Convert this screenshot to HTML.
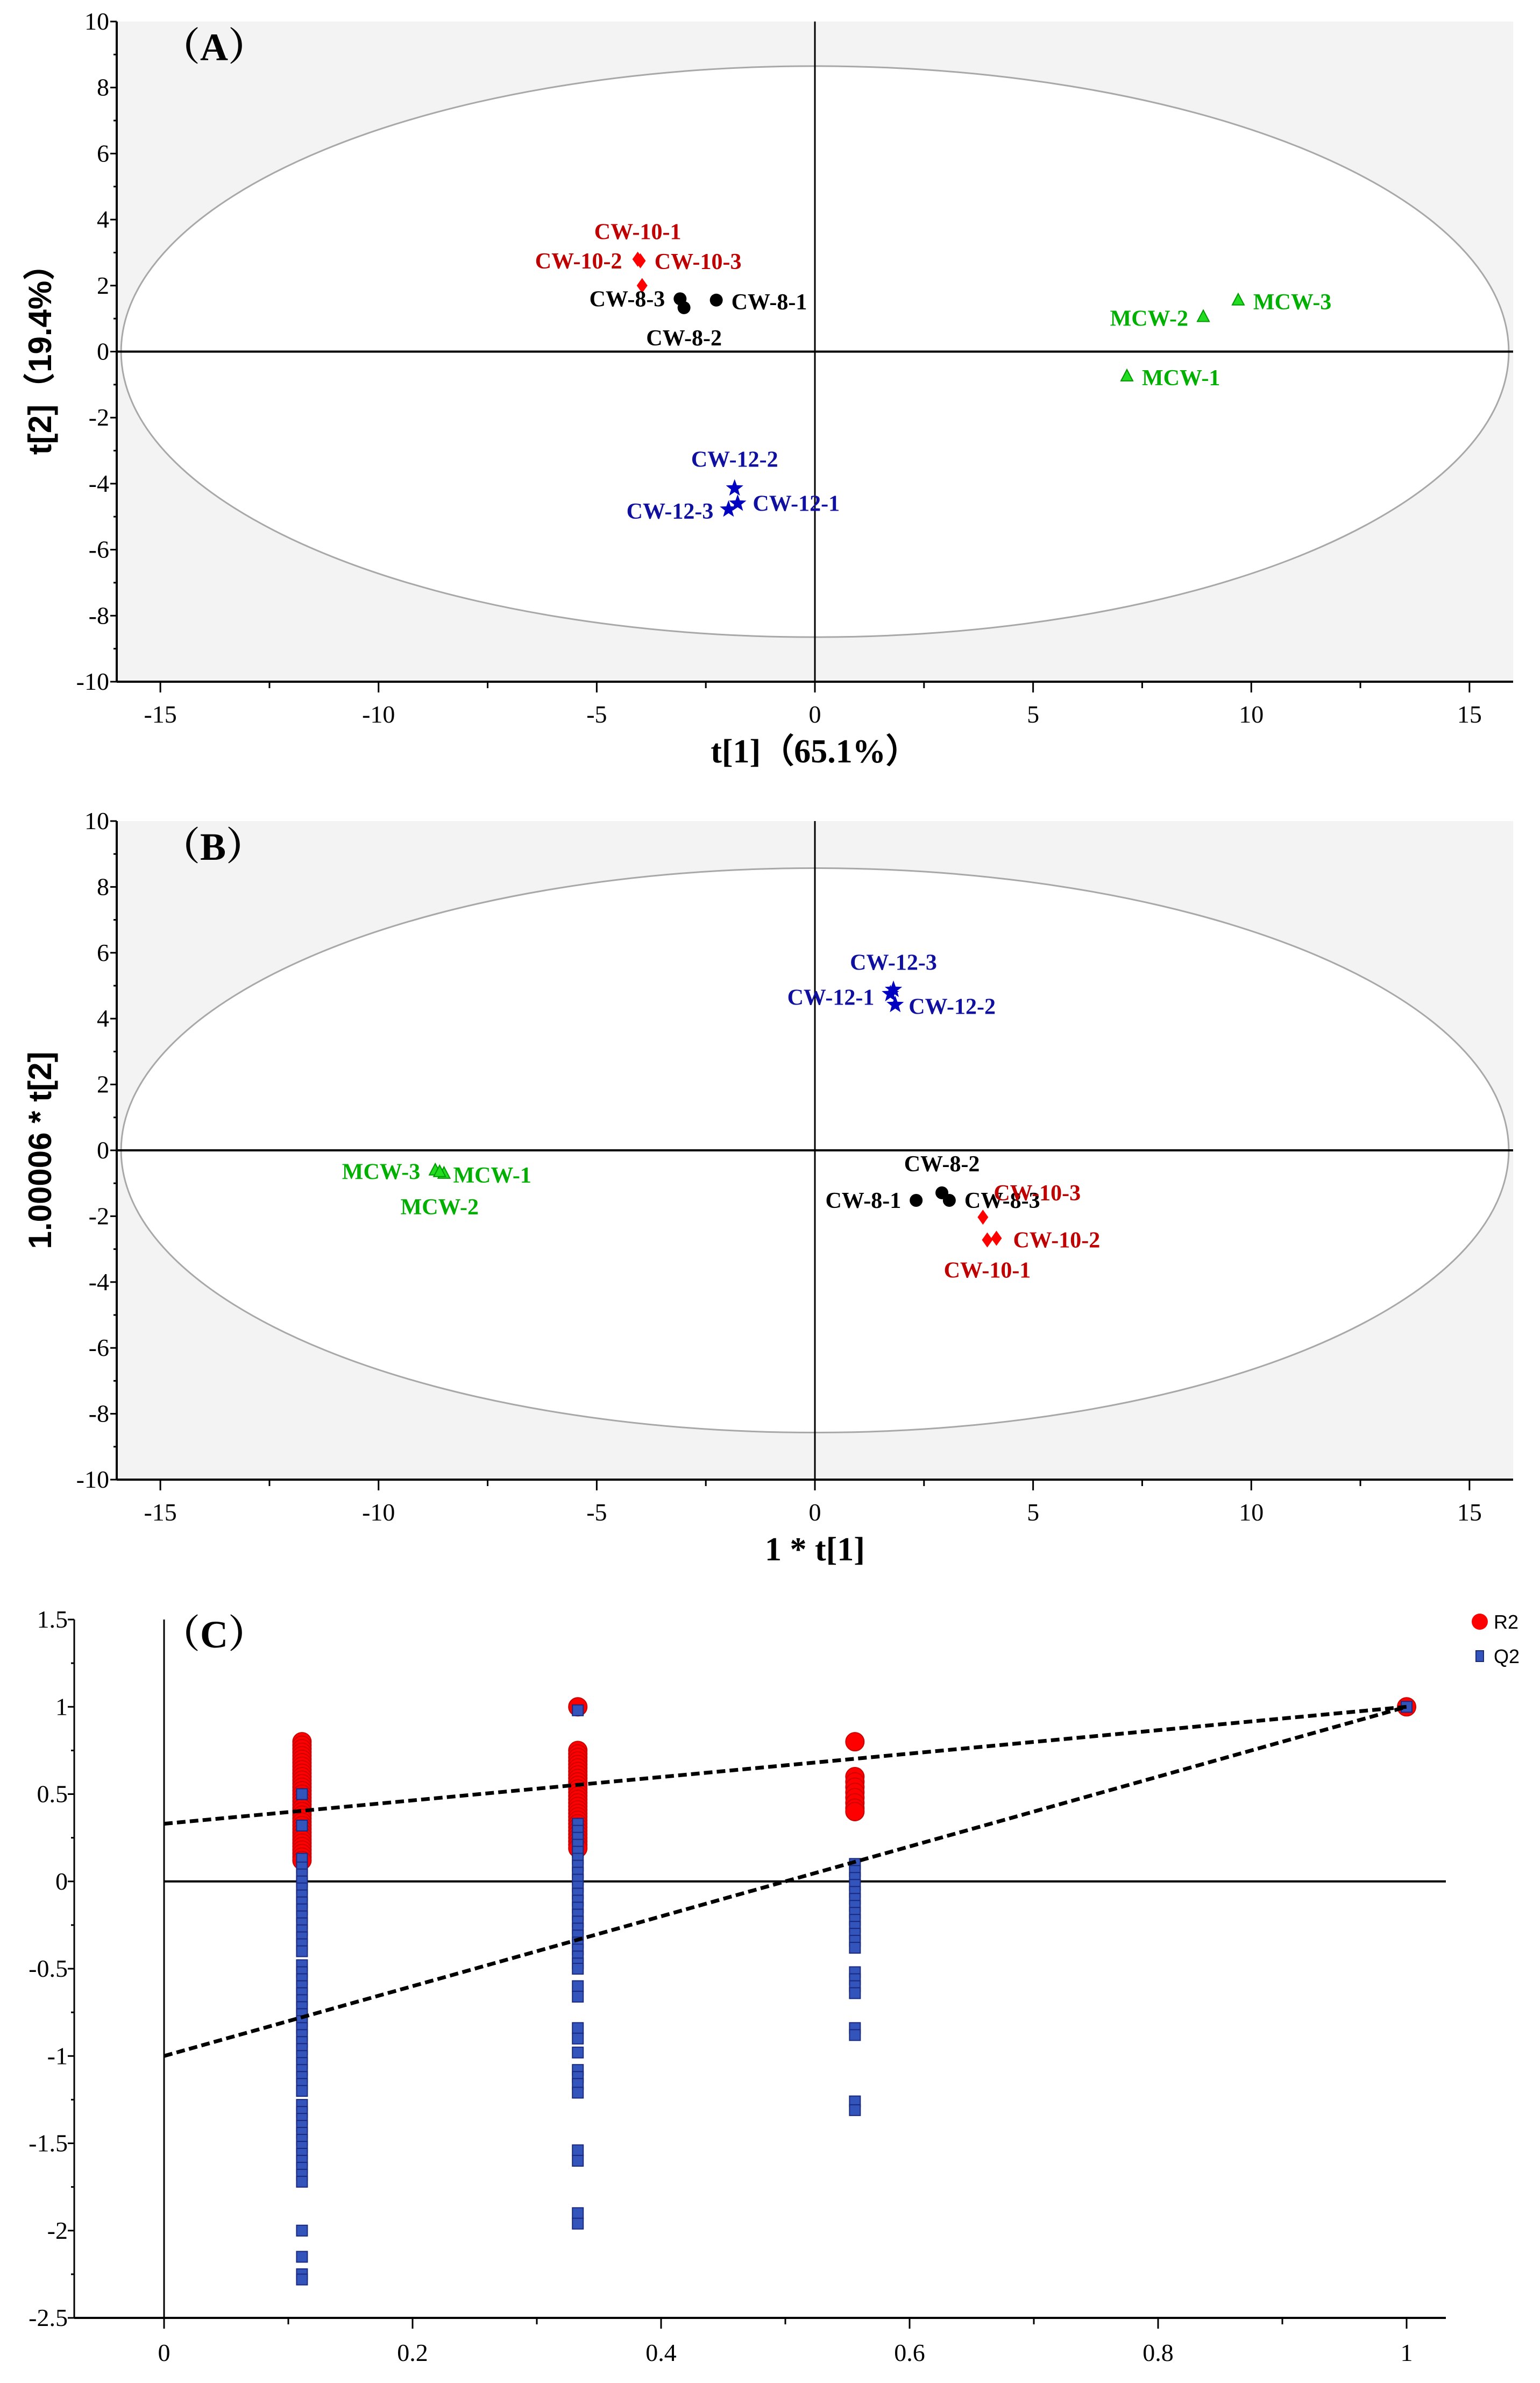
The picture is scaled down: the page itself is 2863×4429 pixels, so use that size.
<!DOCTYPE html>
<html><head><meta charset="utf-8"><style>
html,body{margin:0;padding:0;background:#fff}
svg{display:block}
text{font-family:"Liberation Serif",serif}
</style></head><body>
<svg id="fig" width="2863" height="4429" viewBox="0 0 2863 4429" xmlns="http://www.w3.org/2000/svg"></svg>
<script>
// ---------- Panel A data ----------
const aNames = ["CW-10-1","CW-10-2","CW-10-3","CW-8-3","CW-8-1","CW-8-2","MCW-1","MCW-2","MCW-3","CW-12-2","CW-12-1","CW-12-3"];
const aX = [-4.06,-4.0,-3.96,-3.09,-2.26,-3.0,7.15,8.9,9.7,-1.84,-1.77,-1.98];
const aY = [2.8,2.75,2.0,1.6,1.56,1.33,-0.74,1.06,1.56,-4.14,-4.6,-4.78];
const aGroup = ["r","r","r","k","k","k","g","g","g","b","b","b"];
// ---------- Panel B data ----------
const bNames = ["CW-12-3","CW-12-1","CW-12-2","MCW-3","MCW-1","MCW-2","CW-8-2","CW-8-1","CW-8-3","CW-10-3","CW-10-2","CW-10-1"];
const bX = [1.8,1.73,1.84,-8.7,-8.5,-8.6,2.91,2.32,3.08,3.85,4.16,3.95];
const bY = [4.88,4.75,4.42,-0.6,-0.7,-0.65,-1.29,-1.52,-1.52,-2.03,-2.67,-2.72];
const bGroup = ["b","b","b","g","g","g","k","k","k","r","r","r"];
// ---------- Panel C data ----------
const cXcats = [0.111,0.333,0.556,1.0];
const r2_0 = [0.80,0.78,0.76,0.74,0.72,0.70,0.68,0.66,0.64,0.62,0.60,0.58,0.56,0.54,0.52,0.50,0.48,0.46,0.44,0.42,0.40,0.38,0.36,0.34,0.32,0.30,0.28,0.26,0.24,0.22,0.20,0.18,0.16,0.14,0.12];
const r2_1 = [1.0,0.75,0.73,0.71,0.69,0.67,0.65,0.63,0.61,0.59,0.57,0.55,0.53,0.51,0.49,0.47,0.45,0.43,0.41,0.39,0.37,0.35,0.33,0.31,0.29,0.27,0.25,0.23,0.21,0.19];
const r2_2 = [0.80,0.60,0.57,0.54,0.51,0.48,0.45,0.42,0.40];
const r2_3 = [1.0];
const q2_0 = [0.50,0.32,0.13,0.08,0.04,0.0,-0.04,-0.08,-0.12,-0.16,-0.20,-0.24,-0.28,-0.32,-0.36,-0.40,-0.48,-0.52,-0.56,-0.60,-0.64,-0.68,-0.72,-0.76,-0.80,-0.84,-0.88,-0.92,-0.96,-1.00,-1.04,-1.08,-1.12,-1.16,-1.20,-1.28,-1.32,-1.36,-1.40,-1.44,-1.48,-1.52,-1.56,-1.60,-1.64,-1.68,-1.72,-2.00,-2.15,-2.25,-2.28];
const q2_1 = [0.98,0.33,0.29,0.25,0.21,0.17,0.13,0.09,0.05,0.01,-0.03,-0.07,-0.11,-0.15,-0.19,-0.23,-0.27,-0.31,-0.35,-0.39,-0.43,-0.47,-0.50,-0.60,-0.66,-0.84,-0.90,-0.98,-1.08,-1.12,-1.16,-1.21,-1.54,-1.60,-1.90,-1.96];
const q2_2 = [0.10,0.06,0.02,-0.02,-0.06,-0.10,-0.14,-0.18,-0.22,-0.26,-0.30,-0.34,-0.38,-0.52,-0.56,-0.60,-0.64,-0.84,-0.88,-1.26,-1.31];
const q2_3 = [1.0];
const r2Line = [0.33,1.0];
const q2Line = [-1.0,1.0];
const yTicksAB = [-10,-8,-6,-4,-2,0,2,4,6,8,10];
const xTicksAB = [-15,-10,-5,0,5,10,15];
const yTicksC = [-2.5,-2,-1.5,-1,-0.5,0,0.5,1,1.5];
const xTicksC = [0,0.2,0.4,0.6,0.8,1];

const NS="http://www.w3.org/2000/svg";
const svg=document.getElementById('fig');
function mk(tag,attrs,parent){const e=document.createElementNS(NS,tag);for(const k in attrs)e.setAttribute(k,attrs[k]);(parent||svg).appendChild(e);return e;}
function scale(d0,d1,p0,p1){return v=>p0+(v-d0)/(d1-d0)*(p1-p0);}

const textCol={r:"#c00000",k:"#000000",g:"#00b000",b:"#1010a0"};

function marker(g,type,x,y){
  let e;
  if(type==="k"){e=mk('circle',{cx:x,cy:y,r:12,fill:"#000"},g);}
  else if(type==="r"){e=mk('polygon',{points:`${x},${y-14} ${x+10},${y} ${x},${y+14} ${x-10},${y}`,fill:"#ff0000"},g);}
  else if(type==="g"){e=mk('polygon',{points:`${x},${y-12} ${x+11},${y+9} ${x-11},${y+9}`,fill:"#22dd22",stroke:"#009900","stroke-width":2},g);}
  else {let p=[];for(let i=0;i<10;i++){const rr=i%2?7:17;const a=-Math.PI/2+i*Math.PI/5;p.push((x+rr*Math.cos(a)).toFixed(1)+","+(y+rr*Math.sin(a)).toFixed(1));}
    e=mk('polygon',{points:p.join(" "),fill:"#0000c0"},g);}
  return e;
}

function scorePanel(id,top,bottom,names,xs,ys,groups,labOff,letter,yTitle,xTitle,ellRy){
  const L=217,R=2813;
  const X=scale(-16,16,L,R), Y=scale(-10,10,bottom,top);
  const g=mk('g',{});  
  const bg=mk('rect',{x:L,y:top,width:R-L,height:bottom-top,fill:"#f3f3f3"},g);
   
  const el=mk('ellipse',{cx:X(0),cy:Y(0),rx:X(15.9)-X(0),ry:Y(0)-Y(ellRy),fill:"#fff",stroke:"#a8a8a8","stroke-width":3},g);
   
  mk('line',{x1:L,x2:R,y1:Y(0),y2:Y(0),stroke:"#000","stroke-width":4},g);
  mk('line',{x1:X(0),x2:X(0),y1:top,y2:bottom,stroke:"#000","stroke-width":3},g);
  mk('line',{x1:L,x2:L,y1:top,y2:bottom,stroke:"#000","stroke-width":4},g);
  mk('line',{x1:L,x2:R,y1:bottom,y2:bottom,stroke:"#000","stroke-width":4},g);
  for(let v=-10;v<=10;v+=1){mk('line',{x1:L-(v%2===0?12:6),x2:L,y1:Y(v),y2:Y(v),stroke:"#000","stroke-width":3},g);}
  yTicksAB.forEach(v=>{const t=mk('text',{x:L-14,y:Y(v)+15,"text-anchor":"end","font-size":46},g);t.textContent=v;
     });
  for(let v=-15;v<=15;v+=2.5){mk('line',{x1:X(v),x2:X(v),y1:bottom,y2:bottom+(v%5===0?20:12),stroke:"#000","stroke-width":3},g);}
  xTicksAB.forEach(v=>{const t=mk('text',{x:X(v),y:bottom+76,"text-anchor":"middle","font-size":46},g);t.textContent=v;
     });
  const xt=mk('text',{x:1515,y:bottom+150,"text-anchor":"middle","font-size":62,"font-weight":"bold"},g);xt.textContent=xTitle;
   
  const yc=(top+bottom)/2;
  const yt=mk('text',{x:0,y:0,"text-anchor":"middle","font-size":60,"font-weight":"bold",transform:`translate(95,${yc}) rotate(-90)`},g);
  yt.setAttribute('style','font-family:"Liberation Sans","Noto Sans CJK SC",sans-serif');
  yt.textContent=yTitle;
   
  const pl=mk('text',{x:300,y:top+72,"font-size":72,"font-weight":"bold"},g);
  pl.setAttribute('style','font-family:"Liberation Serif","Noto Serif CJK SC",serif');
  pl.textContent="（"+letter+"）";
   
  names.forEach((n,i)=>{
    const px=X(xs[i]),py=Y(ys[i]);
    const m=marker(g,groups[i],px,py);
     
  });
  names.forEach((n,i)=>{
    const px=X(xs[i]),py=Y(ys[i]); const o=labOff[i];
    const t=mk('text',{x:px+o[1],y:py+o[2]+14,"text-anchor":o[0],"font-size":42,"font-weight":"bold",fill:textCol[groups[i]]},g);
    t.textContent=n;
     
  });
}
const aOff=[["middle",0,-51],["end",-34,0],["start",23,-45],["end",-28,0],["start",28,3],["middle",0,56],["start",28,3],["end",-28,3],["start",28,3],["middle",0,-54],["start",28,0],["end",-28,3]];
const bOff=[["middle",0,-51],["end",-30,6],["start",25,3],["end",-28,3],["start",17,3],["middle",0,65],["middle",0,-54],["end",-28,0],["start",28,0],["start",20,-45],["start",31,3],["middle",0,56]];
scorePanel('a',40,1267,aNames,aX,aY,aGroup,aOff,"A","t[2]（19.4%）","t[1]（65.1%）",8.65);
scorePanel('b',1526,2750,bNames,bX,bY,bGroup,bOff,"B","1.00006 * t[2]","1 * t[1]",8.57);

// ---------- Panel C ----------
(function(){
  const L=138,R=2688,T=3010,B=4308;
  const X=scale(0,1,305,2615), Y=scale(-2.5,1.5,B,T);
  const g=mk('g',{});  
  mk('line',{x1:L,x2:L,y1:T,y2:B,stroke:"#000","stroke-width":3},g);
  mk('line',{x1:L,x2:R,y1:B,y2:B,stroke:"#000","stroke-width":4},g);
  mk('line',{x1:X(0),x2:X(0),y1:T,y2:B,stroke:"#000","stroke-width":3},g);
  mk('line',{x1:X(0),x2:R,y1:Y(0),y2:Y(0),stroke:"#000","stroke-width":4},g);
  for(let v=-2.5;v<=1.5001;v+=0.25){const maj=Math.abs(v*2-Math.round(v*2))<1e-6;mk('line',{x1:L-(maj?12:6),x2:L,y1:Y(v),y2:Y(v),stroke:"#000","stroke-width":3},g);}
  yTicksC.forEach(v=>{const t=mk('text',{x:L-12,y:Y(v)+15,"text-anchor":"end","font-size":46},g);t.textContent=v;
     });
  for(let v=0;v<=1.0001;v+=0.1){const maj=Math.abs(v*5-Math.round(v*5))<1e-6;mk('line',{x1:X(v),x2:X(v),y1:B,y2:B+(maj?20:12),stroke:"#000","stroke-width":3},g);}
  xTicksC.forEach(v=>{const t=mk('text',{x:X(v),y:B+80,"text-anchor":"middle","font-size":46},g);t.textContent=v;
     });
  const pl=mk('text',{x:300,y:3062,"font-size":72,"font-weight":"bold"},g);
  pl.setAttribute('style','font-family:"Liberation Serif","Noto Serif CJK SC",serif');
  pl.textContent="（C）";
   
  const r2s=[r2_0,r2_1,r2_2,r2_3], q2s=[q2_0,q2_1,q2_2,q2_3];
  r2s.forEach((arr,i)=>arr.forEach(v=>{const c=mk('circle',{cx:X(cXcats[i]),cy:Y(v),r:17,fill:"#ff0000",stroke:"#cc0000","stroke-width":2},g);
     }));
  q2s.forEach((arr,i)=>arr.forEach(v=>{const c=mk('rect',{x:X(cXcats[i])-10,y:Y(v)-10,width:20,height:20,fill:"#3355bb",stroke:"#1a2a80","stroke-width":2},g);
     }));
  const l1=mk('line',{x1:X(0),y1:Y(r2Line[0]),x2:X(1),y2:Y(r2Line[1]),stroke:"#000","stroke-width":7,"stroke-dasharray":"16,8"},g);
   
  const l2=mk('line',{x1:X(0),y1:Y(q2Line[0]),x2:X(1),y2:Y(q2Line[1]),stroke:"#000","stroke-width":7,"stroke-dasharray":"16,8"},g);
   
  const lg=mk('g',{},g);  
  const e1=mk('circle',{cx:2751,cy:3014,r:15,fill:"#ff0000"},lg);  
  const t1=mk('text',{x:2777,y:3027,"font-size":36},lg); t1.setAttribute('style','font-family:"Liberation Sans",sans-serif'); t1.textContent="R2";
   
  const e2=mk('rect',{x:2744,y:3068,width:14,height:20,fill:"#3355bb",stroke:"#1a2a80","stroke-width":2},lg);  
  const t2=mk('text',{x:2777,y:3091,"font-size":36},lg); t2.setAttribute('style','font-family:"Liberation Sans",sans-serif'); t2.textContent="Q2";
   
})();
</script>
</body></html>
